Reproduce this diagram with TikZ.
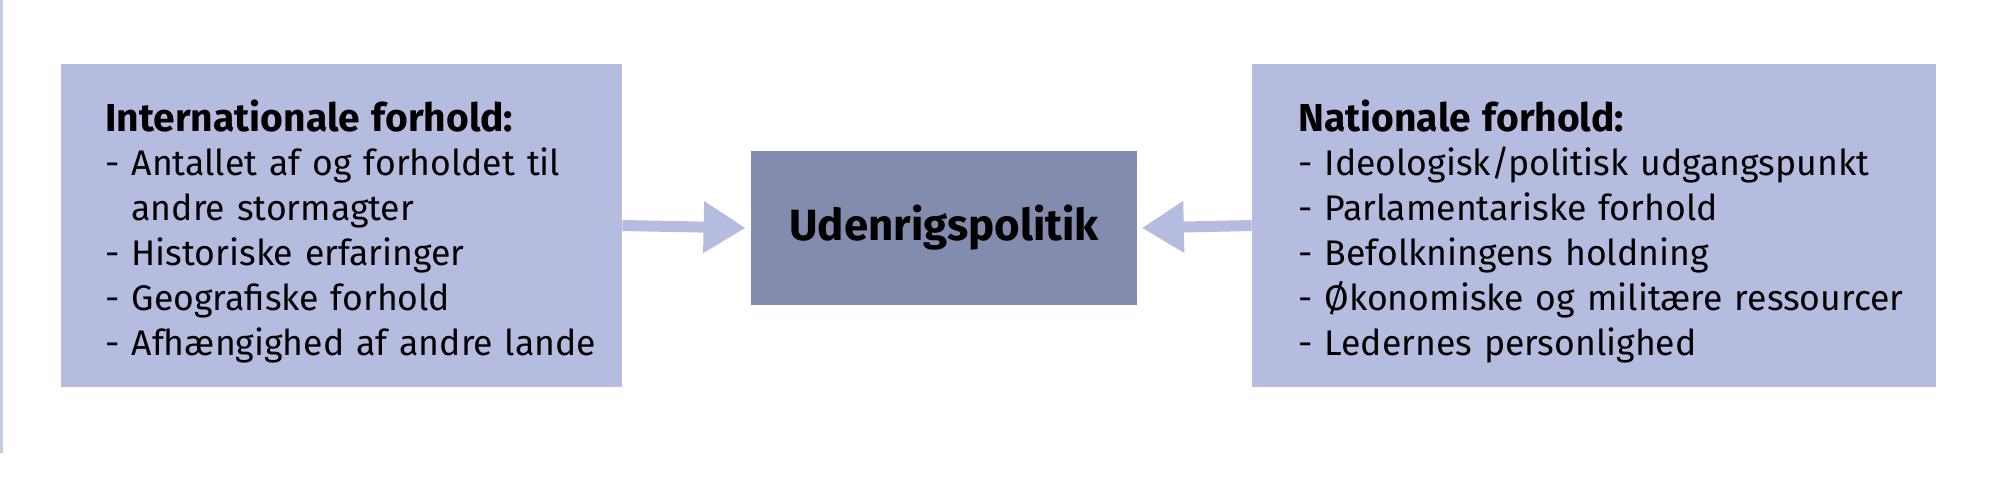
\documentclass[tikz,border=0pt]{standalone}
\usepackage{fontspec}
\setmainfont{Fira Sans}
\usetikzlibrary{arrows.meta}
\definecolor{boxc}{HTML}{B6BBE0}
\definecolor{midc}{HTML}{838BAF}
\definecolor{linec}{HTML}{C8CBE7}
\tikzset{
  sidebox/.style={fill=boxc, draw=none, minimum height=161.5pt, inner sep=0pt},
  midbox/.style={fill=midc, draw=none, minimum width=193pt, minimum height=77pt, inner sep=0pt,
    font=\fontsize{21.9pt}{26pt}\selectfont\bfseries},
  listtext/.style={anchor=base west, inner sep=0pt, align=left, text width=340pt,
    font=\fontsize{17.8pt}{22.4pt}\selectfont},
  fatarrow/.style={draw=boxc, line width=5.5pt, -{Triangle[length=21pt,width=24.5pt]}}
}
\newcommand{\boxtitle}[1]{{\fontsize{19.5pt}{22.4pt}\selectfont\bfseries #1}}
\begin{document}
\begin{tikzpicture}[x=0.5pt,y=-0.5pt]
\useasboundingbox (0,0) rectangle (2000,494);
\draw[linec, line width=1.3pt] (1.5,0) -- (1.5,453);
\node[sidebox, minimum width=280.5pt] (left) at (341.5,225.5) {};
\node[sidebox, minimum width=342pt] (right) at (1594,225.5) {};
\node[midbox] (mid) at (944,228) {Udenrigspolitik};
\node[listtext] (ltext) at (105,131) {\boxtitle{Internationale forhold:}\\
- Antallet af og forholdet til\\
\hphantom{-}\ andre stormagter\\
- Historiske erfaringer\\
- Geografiske forhold\\
- Afhængighed af andre lande};
\node[listtext] (rtext) at (1298,131) {\boxtitle{Nationale forhold:}\\
- Ideologisk/politisk udgangspunkt\\
- Parlamentariske forhold\\
- Befolkningens holdning\\
- Økonomiske og militære ressourcer\\
- Ledernes personlighed};
\draw[fatarrow, shorten >=2.5pt] (left.east) -- (mid.west);
\draw[fatarrow, shorten >=2.2pt] (right.west) -- (mid.east);
\end{tikzpicture}
\end{document}
